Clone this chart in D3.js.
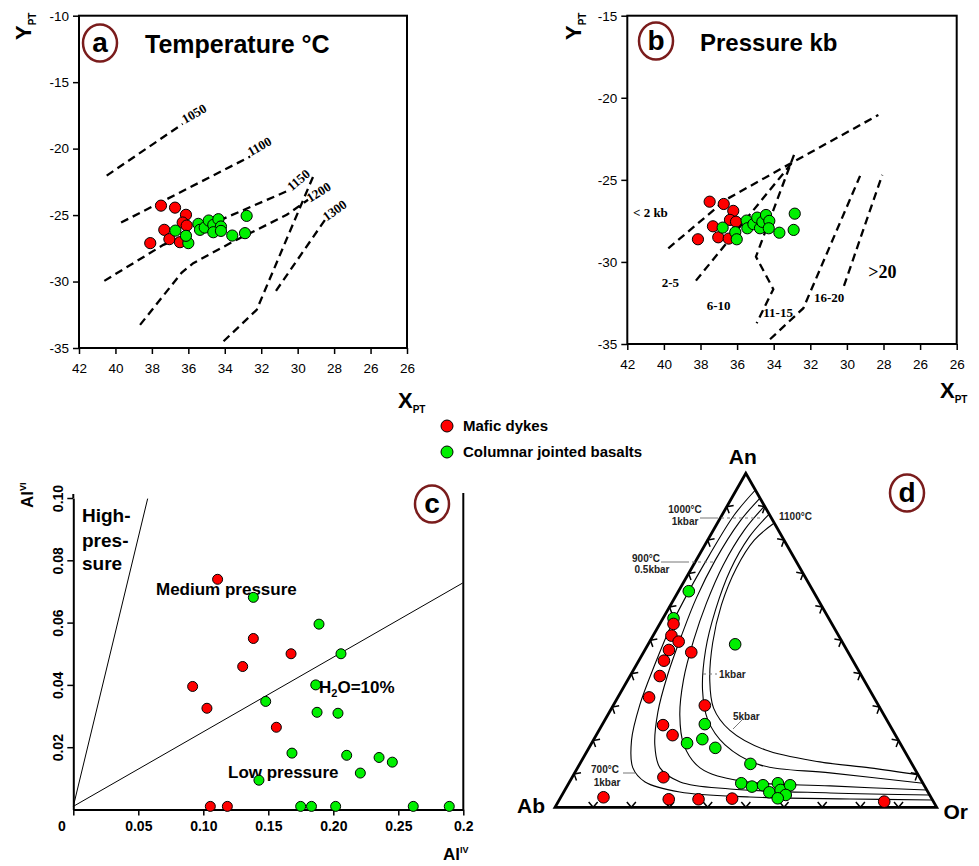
<!DOCTYPE html>
<html>
<head>
<meta charset="utf-8">
<script src="https://cdn.jsdelivr.net/npm/d3@7"></script>
<style>
body { margin: 0; background: #fff; }
</style>
</head>
<body>
<script>
// ---- data -------------------------------------------------------------
var xTickVals = [42, 40, 38, 36, 34, 32, 30, 28, 26, 24];
var xTickLabels = ["42", "40", "38", "36", "34", "32", "30", "28", "26", "26"];
var aYTicks = [-10, -15, -20, -25, -30, -35];
var bYTicks = [-15, -20, -25, -30, -35];

// (a) temperature, XPT / YPT
var aMafic = [[38.09,-27.11],[37.5,-24.29],[36.73,-24.44],[36.13,-24.98],[36.31,-25.56],
              [36.09,-25.79],[37.32,-26.11],[37.04,-26.81],[36.46,-27.04]];
var aBasalt = [[36.71,-26.17],[36.0,-27.11],[36.13,-26.56],[35.45,-25.66],[35.36,-26.11],
               [35.1,-25.94],[34.88,-25.41],[34.63,-25.74],[34.35,-25.31],[34.21,-25.86],
               [34.63,-26.29],[34.21,-26.19],[33.59,-26.54],[32.8,-25.06],[32.89,-26.36]];
var aIsotherms = [
  [[40.48,-22.03],[36.31,-18.14]],
  [[39.69,-25.56],[32.61,-20.6]],
  [[40.61,-29.95],[37.37,-27.24],[30.42,-23.1]],
  [[38.65,-33.26],[36.36,-29.32],[35.73,-28.62],[33.55,-27.0],[30.6,-24.98],[29.43,-23.85]],
  [[29.16,-22.13],[32.25,-32.13],[34.17,-34.63]],
  [[31.19,-30.7],[28.5,-25.36]]
];
var aLabels = [
  {t: "1050", p: [36.18,-18.14], r: -30},
  {t: "1100", p: [32.58,-20.6], r: -30},
  {t: "1150", p: [30.33,-23.23], r: -40},
  {t: "1200", p: [29.32,-24.08], r: -32},
  {t: "1300", p: [28.4,-25.49], r: -36}
];

// (b) pressure
var bMafic = [[37.5,-26.33],[36.73,-26.47],[36.21,-26.89],[36.39,-27.44],[36.06,-27.55],
              [37.32,-27.83],[37.03,-28.5],[36.46,-28.58],[38.14,-28.62]];
var bBasalt = [[36.79,-27.91],[36.1,-28.19],[36.02,-28.62],[35.48,-27.48],[35.44,-27.95],
               [35.11,-27.7],[34.9,-27.3],[34.75,-27.95],[34.62,-27.56],[34.42,-27.14],
               [34.24,-27.5],[34.27,-27.95],[33.69,-28.22],[32.85,-27.06],[32.91,-28.05]];
var bIsobars = [
  [[39.76,-29.17],[36.57,-26.18],[32.74,-23.79],[28.28,-21.05]],
  [[38.25,-31.14],[33.02,-23.99]],
  [[32.89,-23.48],[34.97,-29.68],[34.02,-31.66],[34.93,-33.73]],
  [[34.2,-34.71],[32.38,-32.82],[29.28,-24.76]],
  [[30.16,-31.46],[28.07,-24.7]]
];
var bLabels = [
  {t: "< 2 kb", p: [41.69,-27.26], s: 13},
  {t: "2-5", p: [40.12,-31.52], s: 13},
  {t: "6-10", p: [37.66,-32.92], s: 13},
  {t: "11-15", p: [34.57,-33.35], s: 13},
  {t: "16-20", p: [31.8,-32.44], s: 13},
  {t: ">20", p: [28.83,-30.97], s: 18}
];

// (c) AlIV vs AlVI
var cXTicks = [0, 0.05, 0.10, 0.15, 0.20, 0.25, 0.30];
var cXLabels = ["0", "0.05", "0.10", "0.15", "0.20", "0.25", "0.2"];
var cYTicks = [0.02, 0.04, 0.06, 0.08, 0.10];
var cYLabels = ["0.02", "0.04", "0.06", "0.08", "0.10"];
var cMafic = [[0.111,0.0739],[0.1385,0.0549],[0.1675,0.05],[0.1303,0.0459],[0.0918,0.0395],
              [0.1028,0.0325],[0.1562,0.0264],[0.1054,0.001],[0.1185,0.001]];
var cBasalt = [[0.1385,0.0681],[0.189,0.0595],[0.2059,0.05],[0.1865,0.04],[0.148,0.0347],
               [0.1875,0.0312],[0.2036,0.0309],[0.1682,0.0181],[0.2103,0.0174],[0.2352,0.0167],
               [0.2454,0.0152],[0.2208,0.0117],[0.1428,0.0094],[0.1749,0.001],[0.1832,0.001],
               [0.2018,0.001],[0.2615,0.001],[0.2892,0.001]];
var cLines = [
  [[0,0.001],[0.0572,0.0998]],
  [[0,0.001],[0.2995,0.0727]]
];

// (d) feldspar ternary, [An %, Or %]
var dMafic = [[54.9,3.6],[51.4,4.8],[49.6,7.6],[47.1,6.3],[46.4,12.5],[43.9,6.6],[39.3,7.8],
              [32.9,8.2],[30.5,24.0],[24.6,16.0],[21.6,20.0],[9.0,23.9],[3.0,11.2],[2.4,28.6],
              [2.4,36.4],[2.6,45.1],[1.7,85.4]];
var dBasalt = [[64.7,2.7],[56.6,2.75],[48.8,22.8],[24.9,26.8],[20.4,28.4],[19.2,25.0],[17.8,33.1],
               [13.0,44.7],[7.2,45.2],[6.2,48.5],[6.6,51.2],[4.5,53.9],[7.2,54.8],[5.2,56.5],
               [6.6,58.3],[3.7,58.6],[2.7,57.0]];
var dSolvus = [
  [[95.0,5.0],[87.5,3.2],[75.5,2.7],[65.1,2.7],[54.6,3.2],[42.6,4.8],[30.6,6.9],[20.1,10.0],
   [11.8,14.5],[7.6,19.8],[4.6,30.4],[3.1,49.5],[2.5,76.0],[2.2,97.8]],
  [[92.6,7.4],[85.4,5.6],[74.0,5.0],[62.7,5.7],[51.6,7.4],[39.6,9.7],[28.5,12.7],[18.7,16.8],
   [11.8,21.6],[7.6,29.0],[5.5,43.1],[4.3,69.9],[3.7,96.3]],
  [[90.2,9.8],[83.0,8.1],[72.5,7.8],[61.2,9.1],[50.1,11.3],[38.1,14.6],[27.6,18.9],[18.7,24.4],
   [11.8,32.1],[7.9,44.5],[6.4,68.9],[5.2,94.8]],
  [[87.8,12.2],[80.9,10.4],[71.0,10.4],[59.1,12.5],[47.1,15.9],[35.1,21.1],[26.1,27.0],[18.7,35.2],
   [12.7,47.3],[10.3,66.9],[7.2,92.8]],
  [[85.1,14.9],[80.0,12.2],[71.6,11.7],[60.6,13.3],[49.2,16.7],[38.1,21.5],[29.7,26.7],[23.1,34.2],
   [17.2,46.4],[13.6,62.6],[11.8,76.6],[9.7,90.3]]
];
var dTickSteps = [10, 20, 30, 40, 50, 60, 70, 80, 90];

// ---- setup ------------------------------------------------------------
var sans = "'Liberation Sans', Arial, Helvetica, sans-serif";
var serif = "'Liberation Serif', 'Times New Roman', serif";
var RED = "#ff0000", GREEN = "#00f000";

var svg = d3.select("body").append("svg")
    .attr("width", 979)
    .attr("height", 866)
    .style("background", "#fff");

function dots(g, data, x, y, fill, r) {
    g.selectAll(null).data(data).enter().append("circle")
        .attr("cx", function(d) { return x(d[0]); })
        .attr("cy", function(d) { return y(d[1]); })
        .attr("r", r)
        .attr("fill", fill)
        .attr("stroke", "#000")
        .attr("stroke-width", 1);
}

function badge(cx, cy, letter) {
    svg.append("ellipse")
        .attr("cx", cx).attr("cy", cy).attr("rx", 17).attr("ry", 18.5)
        .attr("fill", "none").attr("stroke", "#7a1c1c").attr("stroke-width", 2.5);
    svg.append("text")
        .attr("x", cx).attr("y", cy + 9)
        .attr("text-anchor", "middle")
        .attr("font-family", sans).attr("font-weight", "bold").attr("font-size", 28)
        .text(letter);
}

// rotated "Y PT" and plain "X PT" axis titles
function ptTitle(x, y, letter, rotate) {
    var t = svg.append("text")
        .attr("transform", "translate(" + x + "," + y + ")" + (rotate ? " rotate(-90)" : ""))
        .attr("font-family", sans).attr("font-weight", "bold").attr("font-size", 22);
    t.append("tspan").text(letter);
    t.append("tspan").attr("font-size", 10).attr("dy", 5).text("PT");
}

function ptFrame(x, y, yticks) {
    var g = svg.append("g");
    g.append("g")
        .attr("transform", "translate(0," + y.range()[1] + ")")
        .call(d3.axisBottom(x).tickValues(xTickVals)
            .tickFormat(function(d, i) { return xTickLabels[i]; })
            .tickSize(6).tickPadding(9));
    g.append("g")
        .attr("transform", "translate(" + x.range()[0] + ",0)")
        .call(d3.axisLeft(y).tickValues(yticks)
            .tickFormat(function(d) { return String(d); })
            .tickSize(6).tickPadding(4));
    g.selectAll(".domain").remove();
    g.selectAll(".tick line").attr("stroke", "#000").attr("stroke-width", 1.5);
    g.selectAll(".tick text").attr("font-family", sans).attr("font-size", 13.5).attr("fill", "#000");
    g.append("rect")
        .attr("x", x.range()[0]).attr("y", y.range()[0])
        .attr("width", x.range()[1] - x.range()[0])
        .attr("height", y.range()[1] - y.range()[0])
        .attr("fill", "none").attr("stroke", "#000").attr("stroke-width", 2);
    return g;
}

var line = d3.line();

// ---- panel a ----------------------------------------------------------
var xA = d3.scaleLinear().domain([42, 24]).range([79, 407]);
var yA = d3.scaleLinear().domain([-10, -35]).range([15.7, 348]);
var gA = ptFrame(xA, yA, aYTicks);

gA.selectAll(null).data(aIsotherms).enter().append("path")
    .attr("d", function(d) { return line(d.map(function(p) { return [xA(p[0]), yA(p[1])]; })); })
    .attr("fill", "none").attr("stroke", "#000").attr("stroke-width", 2.3)
    .attr("stroke-dasharray", "8,5");
gA.selectAll(null).data(aLabels).enter().append("text")
    .attr("transform", function(d) { return "translate(" + xA(d.p[0]) + "," + yA(d.p[1]) + ") rotate(" + d.r + ")"; })
    .attr("font-family", serif).attr("font-weight", "bold").attr("font-size", 13)
    .text(function(d) { return d.t; });
dots(gA, aMafic, xA, yA, RED, 5.6);
dots(gA, aBasalt, xA, yA, GREEN, 5.6);

badge(100, 43, "a");
svg.append("text").attr("x", 145).attr("y", 53)
    .attr("font-family", sans).attr("font-weight", "bold").attr("font-size", 25)
    .text("Temperature °C");
ptTitle(31, 40, "Y", true);
ptTitle(398, 408, "X", false);

// ---- panel b ----------------------------------------------------------
var xB = d3.scaleLinear().domain([42, 24]).range([627.3, 956.7]);
var yB = d3.scaleLinear().domain([-15, -35]).range([15.7, 344]);
var gB = ptFrame(xB, yB, bYTicks);

gB.selectAll(null).data(bIsobars).enter().append("path")
    .attr("d", function(d) { return line(d.map(function(p) { return [xB(p[0]), yB(p[1])]; })); })
    .attr("fill", "none").attr("stroke", "#000").attr("stroke-width", 2.3)
    .attr("stroke-dasharray", "8,5");
gB.selectAll(null).data(bLabels).enter().append("text")
    .attr("x", function(d) { return xB(d.p[0]); })
    .attr("y", function(d) { return yB(d.p[1]); })
    .attr("font-family", serif).attr("font-weight", "bold")
    .attr("font-size", function(d) { return d.s; })
    .text(function(d) { return d.t; });
dots(gB, bMafic, xB, yB, RED, 5.6);
dots(gB, bBasalt, xB, yB, GREEN, 5.6);

badge(656, 41, "b");
svg.append("text").attr("x", 700).attr("y", 51)
    .attr("font-family", sans).attr("font-weight", "bold").attr("font-size", 24)
    .text("Pressure kb");
ptTitle(581, 40, "Y", true);
ptTitle(940, 398, "X", false);

// ---- legend -----------------------------------------------------------
var legend = [{name: "Mafic dykes", c: RED}, {name: "Columnar jointed basalts", c: GREEN}];
var lg = svg.append("g").attr("transform", "translate(447,426)");
lg.selectAll("circle").data(legend).enter().append("circle")
    .attr("cx", 0).attr("cy", function(d, i) { return i * 26; })
    .attr("r", 6).attr("fill", function(d) { return d.c; })
    .attr("stroke", "#000").attr("stroke-width", 1);
lg.selectAll("text").data(legend).enter().append("text")
    .attr("x", 16).attr("y", function(d, i) { return i * 26 + 5; })
    .attr("font-family", sans).attr("font-weight", "bold").attr("font-size", 15)
    .text(function(d) { return d.name; });

// ---- panel c ----------------------------------------------------------
var xC = d3.scaleLinear().domain([0, 0.3]).range([73.3, 463.3]);
var yC = d3.scaleLinear().domain([0, 0.1]).range([809.5, 498]);
var gC = svg.append("g");

gC.append("g").attr("transform", "translate(0," + yC(0) + ")")
    .call(d3.axisBottom(xC).tickValues(cXTicks)
        .tickFormat(function(d, i) { return cXLabels[i]; })
        .tickSize(6).tickSizeOuter(0).tickPadding(6))
  .selectAll(".tick text")
    .attr("dx", function(d, i) { return i === 0 ? -12 : 0; });
gC.append("g").attr("transform", "translate(" + xC(0) + ",0)")
    .call(d3.axisLeft(yC).tickValues(cYTicks)
        .tickFormat(function(d, i) { return cYLabels[i]; })
        .tickSize(6).tickSizeOuter(0))
  .selectAll(".tick text")
    .attr("transform", "rotate(-90)")
    .attr("x", 0).attr("y", -10).attr("dy", 0)
    .attr("text-anchor", "middle");
gC.selectAll(".domain").attr("stroke", "#000").attr("stroke-width", 2);
gC.selectAll(".tick line").attr("stroke", "#000").attr("stroke-width", 1.5);
gC.selectAll(".tick text").attr("font-family", sans).attr("font-weight", "bold")
    .attr("font-size", 14).attr("fill", "#000");
gC.append("line")
    .attr("x1", xC(0)).attr("x2", xC(0)).attr("y1", yC(0.1)).attr("y2", yC(0.1) - 4)
    .attr("stroke", "#000").attr("stroke-width", 2);
gC.append("line")
    .attr("x1", xC(0.3)).attr("x2", xC(0.3)).attr("y1", yC(0)).attr("y2", yC(0.1) - 5)
    .attr("stroke", "#000").attr("stroke-width", 2);

gC.selectAll(null).data(cLines).enter().append("path")
    .attr("d", function(d) { return line(d.map(function(p) { return [xC(p[0]), yC(p[1])]; })); })
    .attr("fill", "none").attr("stroke", "#000").attr("stroke-width", 1);

function boldText(x, y, size, txt) {
    return gC.append("text").attr("x", x).attr("y", y)
        .attr("font-family", sans).attr("font-weight", "bold").attr("font-size", size)
        .text(txt);
}
boldText(82, 522, 19, "High-");
boldText(82, 547, 19, "pres-");
boldText(82, 570, 19, "sure");
boldText(156, 595, 17, "Medium pressure");
boldText(228, 778, 17, "Low pressure");

dots(gC, cMafic, xC, yC, RED, 5);
dots(gC, cBasalt, xC, yC, GREEN, 5);

var h2o = gC.append("text").attr("x", 319).attr("y", 693)
    .attr("font-family", sans).attr("font-weight", "bold").attr("font-size", 17);
h2o.append("tspan").text("H");
h2o.append("tspan").attr("font-size", 11).attr("dy", 4).text("2");
h2o.append("tspan").attr("dy", -4).text("O=10%");

var alvi = svg.append("text").attr("transform", "translate(33,508) rotate(-90)")
    .attr("font-family", sans).attr("font-weight", "bold").attr("font-size", 17);
alvi.append("tspan").text("Al");
alvi.append("tspan").attr("font-size", 9).attr("dy", -7).text("VI");

var aliv = svg.append("text").attr("x", 443).attr("y", 860)
    .attr("font-family", sans).attr("font-weight", "bold").attr("font-size", 17);
aliv.append("tspan").text("Al");
aliv.append("tspan").attr("font-size", 9).attr("dy", -7).text("IV");

badge(432, 504, "c");

// ---- panel d (ternary An-Ab-Or) ---------------------------------------
var tX = d3.scaleLinear().domain([0, 100]).range([555, 936.7]);
var tY = d3.scaleLinear().domain([0, 100]).range([807.3, 473.3]);
function tern(p) { return [tX(p[1] + p[0] / 2), tY(p[0])]; }   // p = [An, Or]

var gD = svg.append("g");
var vAn = [100, 0], vAb = [0, 0], vOr = [0, 100];

gD.selectAll(null).data(dSolvus).enter().append("path")
    .attr("d", function(d) { return d3.line().curve(d3.curveCatmullRom)(d.map(tern)); })
    .attr("fill", "none").attr("stroke", "#000").attr("stroke-width", 1.1);

// chevron ticks every 10 % along the edges, pointing onto the edge
var edges = [[vAb, vOr], [vOr, vAn], [vAn, vAb]];
var centre = tern([33.3, 33.3]);
var chevrons = [];
edges.forEach(function(e) {
    var a = tern(e[0]), b = tern(e[1]);
    dTickSteps.forEach(function(s) {
        var f = s / 100, p = [a[0] + (b[0] - a[0]) * f, a[1] + (b[1] - a[1]) * f];
        var tx = b[0] - a[0], ty = b[1] - a[1], L = Math.hypot(tx, ty);
        tx /= L; ty /= L;
        var nx = -ty, ny = tx;
        if ((centre[0] - p[0]) * nx + (centre[1] - p[1]) * ny < 0) { nx = -nx; ny = -ny; }
        chevrons.push({p: p, t: [tx, ty], n: [nx, ny]});
    });
});
gD.selectAll(null).data(chevrons).enter().append("path")
    .attr("d", function(d) {
        var s = 7, c = Math.cos(0.7), sn = Math.sin(0.7);
        var p1 = [d.p[0] + s * (d.n[0] * c + d.t[0] * sn), d.p[1] + s * (d.n[1] * c + d.t[1] * sn)];
        var p2 = [d.p[0] + s * (d.n[0] * c - d.t[0] * sn), d.p[1] + s * (d.n[1] * c - d.t[1] * sn)];
        return "M" + p1 + "L" + d.p + "L" + p2;
    })
    .attr("fill", "none").attr("stroke", "#000").attr("stroke-width", 1.5);

gD.append("path")
    .attr("d", line([tern(vAn), tern(vAb), tern(vOr)]) + "Z")
    .attr("fill", "none").attr("stroke", "#000").attr("stroke-width", 2.8)
    .attr("stroke-linejoin", "miter");

// annotation leaders
var leaders = [
    [[700, 518], [715, 518], false], [[715, 518], [763, 518], true],
    [[661, 562], [686, 562], false], [[686, 562], [713, 562], true],
    [[703, 674], [717, 674], true],
    [[742, 720], [733, 729], false],
    [[623, 773], [635, 773], false]
];
gD.selectAll(null).data(leaders).enter().append("line")
    .attr("x1", function(d) { return d[0][0]; }).attr("y1", function(d) { return d[0][1]; })
    .attr("x2", function(d) { return d[1][0]; }).attr("y2", function(d) { return d[1][1]; })
    .attr("stroke", "#777").attr("stroke-width", 1)
    .attr("stroke-dasharray", function(d) { return d[2] ? "3,3" : null; });

var notes = [
    {t: "1000°C", x: 685, y: 513, a: "middle"}, {t: "1kbar", x: 685, y: 525, a: "middle"},
    {t: "1100°C", x: 779, y: 520, a: "start"},
    {t: "900°C", x: 646, y: 562, a: "middle"}, {t: "0.5kbar", x: 652, y: 573, a: "middle"},
    {t: "1kbar", x: 719, y: 678, a: "start"},
    {t: "5kbar", x: 733, y: 720, a: "start"},
    {t: "700°C", x: 605, y: 773, a: "middle"}, {t: "1kbar", x: 607, y: 786, a: "middle"}
];
gD.selectAll(null).data(notes).enter().append("text")
    .attr("x", function(d) { return d.x; }).attr("y", function(d) { return d.y; })
    .attr("text-anchor", function(d) { return d.a; })
    .attr("font-family", sans).attr("font-weight", "bold").attr("font-size", 10)
    .attr("fill", "#222")
    .text(function(d) { return d.t; });

gD.selectAll(null).data(dBasalt).enter().append("circle")
    .attr("cx", function(d) { return tern(d)[0]; }).attr("cy", function(d) { return tern(d)[1]; })
    .attr("r", 5.8).attr("fill", GREEN).attr("stroke", "#000").attr("stroke-width", 1);
gD.selectAll(null).data(dMafic).enter().append("circle")
    .attr("cx", function(d) { return tern(d)[0]; }).attr("cy", function(d) { return tern(d)[1]; })
    .attr("r", 5.8).attr("fill", RED).attr("stroke", "#000").attr("stroke-width", 1);

var corners = [{t: "An", p: vAn, dx: -3, dy: -9}, {t: "Ab", p: vAb, dx: -24, dy: 6}, {t: "Or", p: vOr, dx: 19, dy: 12}];
gD.selectAll(null).data(corners).enter().append("text")
    .attr("x", function(d) { return tern(d.p)[0] + d.dx; })
    .attr("y", function(d) { return tern(d.p)[1] + d.dy; })
    .attr("text-anchor", "middle")
    .attr("font-family", sans).attr("font-weight", "bold").attr("font-size", 21)
    .text(function(d) { return d.t; });

badge(907, 493, "d");
</script>
</body>
</html>
